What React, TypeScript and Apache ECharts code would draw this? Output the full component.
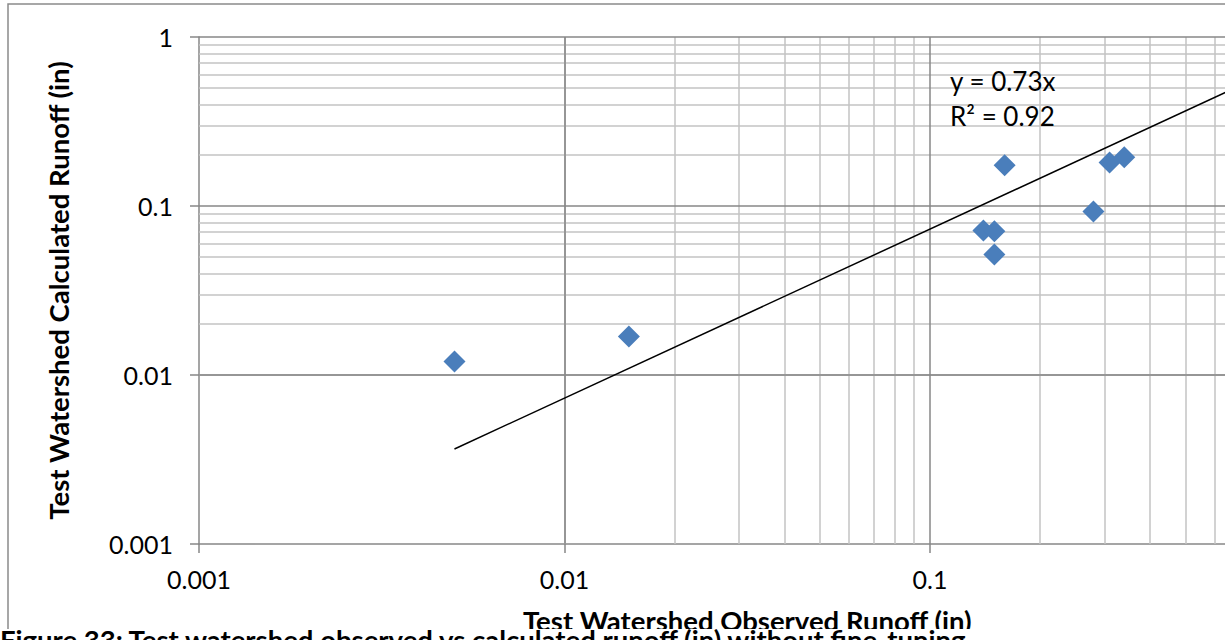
import React, { useEffect, useRef } from "react";
import * as echarts from "echarts";

// Observed vs. calculated runoff for the test watershed (inches)
const observedRunoff = [0.005, 0.015, 0.14, 0.15, 0.15, 0.16, 0.28, 0.31, 0.34];
const calculatedRunoff = [0.012, 0.0169, 0.0717, 0.0708, 0.0517, 0.174, 0.0929, 0.181, 0.194];

// Linear trendline through the origin, y = slope * x
const trendSlope = 0.73;
const trendRSquared = 0.92;
const trendRange = [0.005, 1];

// Log axis decades
const decades = [0.001, 0.01, 0.1, 1];
const axisMin = 0.001;
const axisMax = 1;

const xTitle = "Test Watershed Observed Runoff (in)";
const yTitle = "Test Watershed Calculated Runoff (in)";
const caption =
  "Figure 33: Test watershed observed vs calculated runoff (in) without fine-tuning";

const FONT = "Lato, 'Noto Sans', sans-serif";
const MAJOR = "#878787";
const MINOR = "#c3c3c3";

// minor gridline values between the decades (2..9 × decade)
const minorLines: number[] = [];
decades.slice(0, -1).forEach((d) => {
  for (let k = 2; k <= 9; k++) minorLines.push(+(d * k).toPrecision(3));
});

const fmt = (v: number) => String(parseFloat(Number(v).toPrecision(3)));

const CHART_W = 1320;
const CHART_H = 640;
const PLOT_LEFT = 199;
const PLOT_TOP = 37;
const PLOT_RIGHT_PX = 1295.5;
const PLOT_BOTTOM_PX = 544;
const VISIBLE_W = 1225;

export default function App() {
  const ref = useRef<HTMLDivElement>(null);

  useEffect(() => {
    if (!ref.current) return;
    const chart = echarts.init(ref.current, undefined, { renderer: "svg" });

    const gridLineSeries = (values: number[], color: string, width: number, z: number) => ({
      type: "line" as const,
      data: [],
      silent: true,
      z,
      markLine: {
        silent: true,
        z,
        symbol: ["none", "none"],
        label: { show: false },
        emphasis: { disabled: true },
        lineStyle: { type: "solid", color, width },
        data: [
          ...values.map((v) => ({ xAxis: v })),
          ...values.map((v) => ({ yAxis: v })),
        ],
      },
    });

    const axisCommon = {
      type: "log" as const,
      logBase: 10,
      min: axisMin,
      max: axisMax,
      axisLine: { show: true, lineStyle: { color: MAJOR, width: 1.5 } },
      axisTick: { show: true, inside: false, length: 9, lineStyle: { color: MAJOR, width: 1.5 } },
      splitLine: { show: false },
      minorTick: { show: false },
      minorSplitLine: { show: false },
      nameLocation: "middle" as const,
      nameTextStyle: { fontFamily: FONT, fontWeight: "bold" as const, fontSize: 27.5, color: "#000" },
    };

    // the x axis runs past the visible page edge; its last label sits off-page
    const xLabelFmt = (v: number) => {
      const px = PLOT_LEFT + ((Math.log10(v) - Math.log10(axisMin)) / 3) * (PLOT_RIGHT_PX - PLOT_LEFT);
      return px > VISIBLE_W - 20 ? "" : fmt(v);
    };

    chart.setOption({
      animation: false,
      backgroundColor: "#fff",
      grid: {
        left: PLOT_LEFT,
        top: PLOT_TOP,
        right: CHART_W - PLOT_RIGHT_PX,
        bottom: CHART_H - PLOT_BOTTOM_PX,
        containLabel: false,
      },
      xAxis: {
        ...axisCommon,
        name: xTitle,
        nameGap: 62,
        axisLabel: { fontFamily: FONT, fontSize: 25, color: "#000", margin: 22, formatter: xLabelFmt },
      },
      yAxis: {
        ...axisCommon,
        name: yTitle,
        nameGap: 127,
        nameRotate: 90,
        axisLabel: { fontFamily: FONT, fontSize: 25, color: "#000", margin: 26, formatter: fmt },
      },
      series: [
        gridLineSeries(minorLines, MINOR, 1.5, 1),
        gridLineSeries(decades.slice(1), MAJOR, 1.5, 2),
        {
          type: "line",
          data: trendRange.map((x) => [x, trendSlope * x]),
          showSymbol: false,
          silent: true,
          z: 4,
          lineStyle: { color: "#000", width: 1.5 },
        },
        {
          type: "scatter",
          data: observedRunoff.map((x, i) => [x, calculatedRunoff[i]]),
          symbol: "diamond",
          symbolSize: 22,
          z: 5,
          itemStyle: { color: "#4a7ebb", opacity: 1 },
        },
      ],
      graphic: [
        {
          type: "rect",
          z: 50,
          silent: true,
          shape: { x: 8, y: 4, width: 1400, height: 700 },
          style: { fill: "none", stroke: "#8a8a8a", lineWidth: 1.5 },
        },
        {
          type: "text",
          z: 60,
          x: 950,
          y: 81,
          style: {
            text: `y = ${trendSlope}x`,
            font: `26px ${FONT}`,
            fill: "#000",
            verticalAlign: "middle",
          },
        },
        {
          type: "text",
          z: 60,
          x: 950,
          y: 116,
          style: {
            text: `R² = ${trendRSquared}`,
            font: `26px ${FONT}`,
            fill: "#000",
            verticalAlign: "middle",
          },
        },
        {
          type: "rect",
          z: 100,
          silent: true,
          shape: { x: 0, y: 629, width: CHART_W, height: 20 },
          style: { fill: "#fff" },
        },
        {
          type: "text",
          z: 101,
          x: 0,
          y: 625,
          style: {
            text: caption,
            font: `bold 27.5px ${FONT}`,
            fill: "#000",
            verticalAlign: "top",
          },
        },
      ],
    });

    return () => chart.dispose();
  }, []);

  return (
    <div
      style={{
        position: "fixed",
        left: 0,
        top: 0,
        width: VISIBLE_W,
        height: CHART_H,
        overflow: "hidden",
        background: "#fff",
      }}
    >
      <div ref={ref} style={{ width: CHART_W, height: CHART_H }} />
    </div>
  );
}
